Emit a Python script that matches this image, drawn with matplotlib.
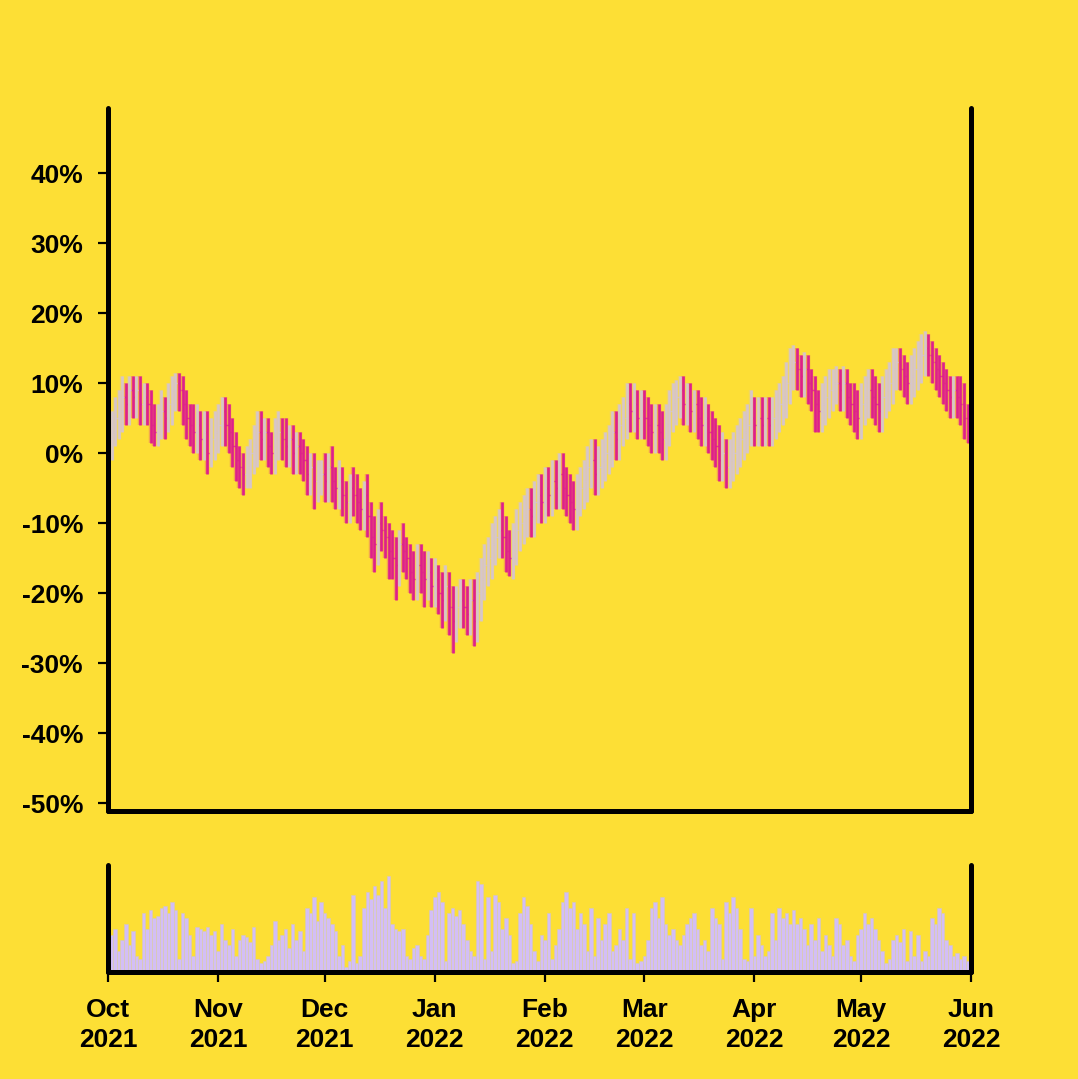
import numpy as np
import pandas as pd
import matplotlib.pyplot as plt
import matplotlib.dates as mdates

# daily bars, Oct 1 2021 -> May 31 2022 (values in % from the start)
date_start = '2021-10-01'
date_end = '2022-05-31'

open_pct = [
    0, 2, 3, 5, 6, 8, 7, 9, 8, 9,
    7, 8, 7, 4, 3, 4, 6, 5, 7, 9,
    10, 9, 7, 5, 4, 3, 4, 2, 3, 0,
    2, 3, 4, 6, 4, 3, 1, -1, -2, -3,
    -2, 0, 1, 3, 2, 3, 1, 0, 2, 3,
    2, 1, 2, 0, 1, 0, -1, -3, -2, -4,
    -3, -3, -4, -2, -4, -5, -4, -6, -7, -5,
    -6, -7, -8, -6, -9, -12, -13, -10, -11, -12,
    -14, -15, -16, -13, -14, -15, -17, -18, -16, -17,
    -18, -17, -19, -18, -20, -21, -19, -22, -24, -22,
    -21, -22, -23, -21, -24, -20, -18, -16, -15, -13,
    -12, -11, -12, -14, -15, -13, -11, -10, -9, -8,
    -9, -7, -6, -7, -5, -6, -4, -5, -3, -5,
    -6, -7, -8, -6, -5, -4, -2, -1, -3, -2,
    -1, 0, 1, 3, 2, 4, 5, 7, 6, 7,
    5, 6, 5, 4, 3, 4, 3, 2, 4, 6,
    7, 8, 9, 7, 8, 6, 7, 5, 4, 5,
    3, 2, 1, -1, 0, -2, -1, 0, 1, 2,
    3, 4, 5, 4, 5, 4, 5, 4, 5, 6,
    7, 8, 10, 12, 13, 12, 11, 12, 10, 9,
    7, 6, 7, 8, 9, 10, 10, 9, 10, 8,
    7, 6, 5, 7, 8, 9, 8, 7, 6, 8,
    9, 10, 12, 13, 12, 11, 10, 11, 12, 13,
    14, 15, 14, 13, 12, 11, 10, 9, 8, 9,
    8, 7, 5]

close_pct = [
    2, 3, 5, 6, 8, 7, 9, 8, 9, 7,
    8, 7, 4, 3, 4, 6, 5, 7, 9, 10,
    9, 7, 5, 4, 3, 4, 2, 3, 0, 2,
    3, 4, 6, 4, 3, 1, -1, -2, -3, -2,
    0, 1, 3, 2, 3, 1, 0, 2, 3, 2,
    1, 2, 0, 1, 0, -1, -3, -2, -4, -3,
    -3, -4, -2, -4, -5, -4, -6, -7, -5, -6,
    -7, -8, -6, -9, -12, -13, -10, -11, -12, -14,
    -15, -16, -13, -14, -15, -17, -18, -16, -17, -18,
    -17, -19, -18, -20, -21, -19, -22, -24, -22, -21,
    -22, -23, -21, -24, -20, -18, -16, -15, -13, -12,
    -11, -12, -14, -15, -13, -11, -10, -9, -8, -9,
    -7, -6, -7, -5, -6, -4, -5, -3, -5, -6,
    -7, -8, -6, -5, -4, -2, -1, -3, -2, -1,
    0, 1, 3, 2, 4, 5, 7, 6, 7, 5,
    6, 5, 4, 3, 4, 3, 2, 4, 6, 7,
    8, 9, 7, 8, 6, 7, 5, 4, 5, 3,
    2, 1, -1, 0, -2, -1, 0, 1, 2, 3,
    4, 5, 4, 5, 4, 5, 4, 5, 6, 7,
    8, 10, 12, 13, 12, 11, 12, 10, 9, 7,
    6, 7, 8, 9, 10, 10, 9, 10, 8, 7,
    6, 5, 7, 8, 9, 8, 7, 6, 8, 9,
    10, 12, 13, 12, 11, 10, 11, 12, 13, 14,
    15, 14, 13, 12, 11, 10, 9, 8, 9, 8,
    7, 5, 4]

high_pct = [
    6, 6, 8, 9, 11, 10, 11, 11, 11, 11,
    10, 10, 9, 7, 7, 9, 8, 10, 11, 11.5,
    11.5, 11, 9, 7, 7, 7, 6, 6, 6, 5,
    6, 7, 8, 8, 7, 5, 3, 1, 0, 1,
    2, 4, 6, 6, 5, 5, 3, 5, 6, 5,
    5, 4, 4, 3, 3, 2, 1, 0, 0, -1,
    -1, 0, 0, 1, -2, -1, -2, -4, -3, -2,
    -3, -5, -4, -3, -7, -9, -8, -7, -9, -10,
    -11, -12, -11, -10, -12, -13, -14, -13, -13, -14,
    -14, -15, -15, -16, -17, -16, -17, -19, -19, -18,
    -18, -19, -18, -18, -17, -15, -13, -12, -10, -9,
    -8, -7, -9, -11, -10, -8, -7, -6, -5, -5,
    -4, -3, -3, -2, -2, -1, -1, 0, 0, -2,
    -3, -4, -3, -2, -1, 1, 2, 2, 1, 2,
    3, 4, 6, 6, 7, 8, 10, 10, 10, 9,
    9, 9, 8, 7, 7, 7, 6, 7, 9, 10,
    10.5, 11, 11, 10, 10, 9, 9, 8, 8, 7,
    6, 5, 4, 3, 2, 2, 3, 4, 5, 6,
    7, 9, 8, 8, 8, 8, 8, 8, 9, 10,
    11, 13, 15, 15.5, 15, 14, 14.5, 14, 12, 11,
    9, 10, 11, 12, 12, 12.5, 12, 12.5, 12, 10,
    10, 9, 10, 11, 12, 12, 11, 10, 11, 12,
    13, 15, 15, 15, 14, 13, 14, 15, 16, 17,
    17.5, 17, 16, 15, 14, 13, 12, 11, 11, 11,
    11, 10, 7]

low_pct = [
    -1, -1, 1, 2, 3, 4, 4, 5, 5, 4,
    4, 4, 1.5, 1, 1, 2, 2, 3, 4, 6,
    6, 4, 2, 1, 0, 0, -1, -1, -3, -2,
    -1, 0, 1, 1, 0, -2, -4, -5, -6, -5,
    -5, -3, -2, -1, -1, -2, -3, -3, -1, -1,
    -2, -2, -3, -3, -3, -4, -6, -6, -8, -7,
    -6, -7, -7, -7, -8, -8, -9, -10, -10, -9,
    -10, -11, -11, -12, -15, -17, -16, -14, -15, -18,
    -18, -21, -19, -17, -18, -20, -21, -21, -20, -22,
    -21, -22, -22, -23, -25, -24, -26, -28.5, -27, -25,
    -25, -26, -26, -27.5, -27, -24, -21, -19, -18, -16,
    -15, -15, -17, -17.5, -18, -16, -14, -13, -12, -12,
    -12, -10, -10, -10, -9, -9, -8, -8, -8, -9,
    -10, -11, -11, -9, -8, -7, -5, -6, -6, -5,
    -4, -3, -2, -1, -1, 1, 2, 3, 3, 2,
    2, 2, 1, 0, 0, 0, -1, -1, 1, 3,
    4, 5, 4, 4, 3, 3, 2, 1, 1, 0,
    -1, -2, -4, -4, -5, -5, -4, -3, -2, -1,
    0, 1, 1, 1, 1, 1, 1, 1, 2, 3,
    4, 5, 7, 9, 9, 8, 8, 7, 6, 3,
    3, 3, 4, 5, 6, 7, 6, 6, 5, 4,
    3, 2, 2, 4, 5, 5, 4, 3, 3, 5,
    6, 7, 9, 9, 8, 7, 7, 8, 9, 10,
    11, 11, 10, 9, 8, 7, 6, 5, 5, 5,
    4, 2, 1.5]

volume = [
    50, 35, 40, 20, 30, 45, 25, 38, 15, 12,
    55, 40, 58, 50, 52, 60, 62, 55, 65, 58,
    12, 55, 50, 35, 15, 42, 40, 38, 42, 35,
    38, 20, 45, 30, 25, 40, 15, 30, 35, 33,
    28, 42, 12, 8, 10, 15, 25, 48, 30, 35,
    40, 22, 45, 30, 38, 20, 60, 55, 70, 48,
    65, 55, 50, 45, 38, 15, 25, 5, 10, 72,
    8, 15, 60, 75, 68, 80, 72, 85, 60, 90,
    45, 40, 38, 40, 15, 12, 22, 25, 15, 12,
    35, 58, 70, 75, 65, 10, 55, 60, 52, 58,
    45, 30, 20, 15, 85, 82, 12, 70, 20, 72,
    65, 40, 50, 35, 8, 10, 55, 70, 62, 45,
    20, 10, 35, 30, 55, 12, 25, 40, 65, 75,
    60, 65, 40, 55, 45, 20, 60, 15, 50, 30,
    45, 55, 20, 25, 40, 30, 60, 12, 55, 8,
    10, 15, 30, 60, 65, 50, 70, 45, 35, 40,
    30, 25, 35, 45, 50, 55, 40, 25, 30, 20,
    60, 50, 45, 12, 65, 55, 70, 60, 40, 12,
    10, 60, 15, 35, 25, 15, 20, 55, 30, 60,
    50, 55, 45, 58, 45, 50, 40, 25, 45, 30,
    50, 20, 35, 25, 15, 50, 45, 25, 30, 15,
    10, 35, 40, 55, 45, 50, 40, 30, 20, 8,
    12, 30, 35, 28, 40, 10, 38, 15, 35, 10,
    20, 15, 50, 45, 60, 55, 30, 25, 15, 18,
    12, 15, 10]

y_ticks = [-50, -40, -30, -20, -10, 0, 10, 20, 30, 40]

bg = '#FDDF35'
col_down = '#DE1F8C'
col_up = '#D6C5CB'
col_vol = '#D3BEF6'
col_vol_edge = '#D8CBB4'

plt.rcParams['font.family'] = ['Liberation Sans', 'DejaVu Sans']
plt.rcParams['font.weight'] = 'bold'

dates = pd.date_range(date_start, date_end, freq='D')
x = mdates.date2num(dates)
o = np.array(open_pct, dtype=float)
c = np.array(close_pct, dtype=float)
h = np.array(high_pct, dtype=float)
l = np.array(low_pct, dtype=float)
up = c >= o
bar_cols = np.where(up, col_up, col_down)

fig = plt.figure(figsize=(10.78, 10.79), dpi=100, facecolor=bg)
ax = fig.add_axes([0.1002, 0.2484, 0.8006, 0.6515])
axv = fig.add_axes([0.1002, 0.0992, 0.8006, 0.0992])

# ohlc bars: soft halo under a thin core line
ax.vlines(x, l, h, color=bar_cols, lw=3.2, alpha=0.3)
ax.vlines(x[up], l[up], h[up], color=col_up, lw=1.9)
ax.vlines(x[~up], l[~up], h[~up], color=col_down, lw=1.9)
ax.hlines(o, x - 0.4, x, color=bar_cols, lw=1.0)
ax.hlines(c, x, x + 0.4, color=bar_cols, lw=1.0)

xmin = mdates.date2num(pd.Timestamp('2021-10-01'))
xmax = mdates.date2num(pd.Timestamp('2022-06-01'))

for a in (ax, axv):
    a.set_facecolor(bg)
    a.set_xlim(xmin, xmax)
    a.spines['top'].set_visible(False)
    for s in ('left', 'right', 'bottom'):
        a.spines[s].set_linewidth(3.6)
        a.spines[s].set_capstyle('round')
        a.spines[s].set_color('black')

ax.set_ylim(-51.1, 49.3)
ax.set_yticks(y_ticks)
ax.set_yticklabels([f'{v}%' for v in y_ticks])
ax.tick_params(axis='y', length=7, width=1.6, pad=11, labelsize=19)
ax.tick_params(axis='x', bottom=False, labelbottom=False)

# volume
axv.bar(x, volume, width=1.0, color=col_vol, edgecolor=col_vol_edge, linewidth=0.5)
axv.set_ylim(0, 100)
axv.set_yticks([])
axv.xaxis.set_major_locator(mdates.MonthLocator())
axv.xaxis.set_major_formatter(mdates.DateFormatter('%b\n%Y'))
axv.tick_params(axis='x', length=7, width=1.6, pad=12, labelsize=19)
for lab in axv.get_xticklabels():
    lab.set_linespacing(1.3)

fig.savefig('out.png', dpi=100, facecolor=bg)
